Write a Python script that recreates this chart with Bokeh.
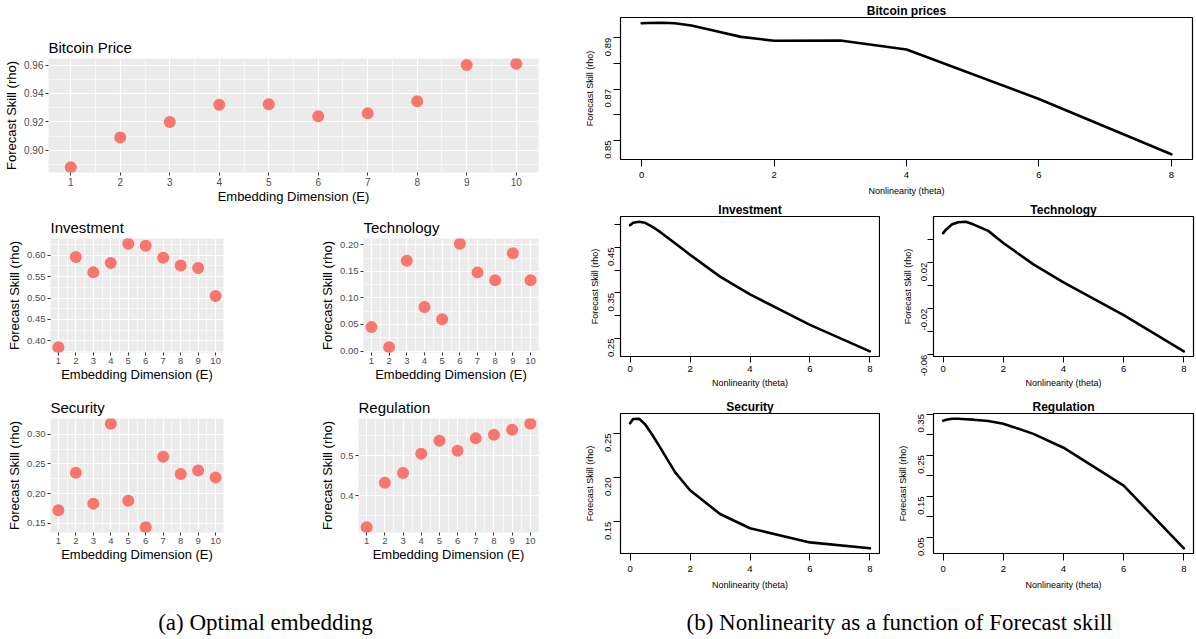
import math
from bokeh.plotting import figure
from bokeh.layouts import column, row
from bokeh.models import Spacer, FixedTicker, PrintfTickFormatter, Range1d, Label
from bokeh.embed import file_html
from bokeh.resources import INLINE

# ---------------- data: (a) optimal embedding ----------------
E = [1, 2, 3, 4, 5, 6, 7, 8, 9, 10]
rho_bitcoin_E = [0.888, 0.909, 0.920, 0.932, 0.9325, 0.924, 0.926, 0.9345, 0.960, 0.961]
rho_invest_E = [0.385, 0.596, 0.560, 0.582, 0.627, 0.622, 0.594, 0.576, 0.570, 0.505]
rho_tech_E = [0.045, 0.007, 0.170, 0.083, 0.060, 0.202, 0.148, 0.133, 0.184, 0.133]
rho_secur_E = [0.172, 0.235, 0.183, 0.318, 0.188, 0.143, 0.262, 0.233, 0.239, 0.227]
rho_regul_E = [0.320, 0.432, 0.457, 0.505, 0.538, 0.513, 0.544, 0.553, 0.566, 0.581]

# ---------------- data: (b) nonlinearity ----------------
theta = [0, 0.1, 0.3, 0.5, 0.75, 1, 1.5, 2, 3, 4, 6, 8]
rho_bitcoin_t = [0.8956, 0.8957, 0.8958, 0.8956, 0.8947, 0.8933, 0.8903, 0.8888, 0.8889, 0.8854, 0.8661, 0.8446]
rho_invest_t = [0.499, 0.504, 0.5065, 0.504, 0.495, 0.484, 0.459, 0.434, 0.386, 0.347, 0.280, 0.222]
rho_tech_t = [0.0457, 0.049, 0.0534, 0.0552, 0.0557, 0.0534, 0.0477, 0.0371, 0.0186, 0.0029, -0.0257, -0.0571]
rho_secur_t = [0.2616, 0.2665, 0.2668, 0.2605, 0.248, 0.2343, 0.2062, 0.1856, 0.1586, 0.1425, 0.1264, 0.1197]
rho_regul_t = [0.334, 0.336, 0.3385, 0.3388, 0.3375, 0.3364, 0.3332, 0.3267, 0.3019, 0.2682, 0.176, 0.0236]

E_minor = [1.5, 2.5, 3.5, 4.5, 5.5, 6.5, 7.5, 8.5, 9.5]
theta_ticks = [0, 2, 4, 6, 8]

SANS = "Liberation Sans"


def gg_panel(title, yvals, yticks, yminor, fmt, w, h, left, right, top, bottom, tick_fs):
    lo, hi = min(yvals), max(yvals)
    pad = 0.05 * (hi - lo)
    xlo, xhi = min(E), max(E)
    xpad = 0.05 * (xhi - xlo)
    p = figure(width=w, height=h, x_range=Range1d(xlo - xpad, xhi + xpad),
               y_range=Range1d(lo - pad, hi + pad),
               min_border_left=left, min_border_right=right,
               min_border_top=top, min_border_bottom=bottom,
               toolbar_location=None, output_backend="svg", title=title)
    p.background_fill_color = "#EBEBEB"
    p.border_fill_color = "white"
    p.outline_line_color = None
    p.title.text_font = SANS
    p.title.text_font_size = "15px"
    p.title.text_font_style = "normal"
    p.title.text_color = "black"
    p.title.align = "left"
    p.title.standoff = 5
    p.xaxis.ticker = FixedTicker(ticks=E, minor_ticks=E_minor)
    p.yaxis.ticker = FixedTicker(ticks=yticks, minor_ticks=yminor)
    p.yaxis.formatter = PrintfTickFormatter(format=fmt)
    for ax in (p.xaxis[0], p.yaxis[0]):
        ax.axis_line_color = None
        ax.major_tick_in = 0
        ax.major_tick_out = 3
        ax.major_tick_line_color = "#333333"
        ax.minor_tick_line_color = None
        ax.major_label_text_color = "#4D4D4D"
        ax.major_label_text_font = SANS
        ax.major_label_text_font_size = tick_fs
        ax.major_label_standoff = 1
        ax.axis_label_text_font = SANS
        ax.axis_label_text_font_size = "13px"
        ax.axis_label_text_font_style = "normal"
        ax.axis_label_text_color = "black"
        ax.axis_label_standoff = 2
    p.xaxis.axis_label = "Embedding Dimension (E)"
    p.yaxis.axis_label = "Forecast Skill (rho)"
    p.xaxis.axis_label_standoff = 0
    for g in (p.xgrid[0], p.ygrid[0]):
        g.grid_line_color = "white"
        g.grid_line_width = 1.2
        g.minor_grid_line_color = "white"
        g.minor_grid_line_width = 0.6
    p.scatter(x=E, y=yvals, size=12, color="#F8766D", line_color=None)
    return p


def r_panel(title, yvals, yticks, ylabeled, w, h, left, right, top, bottom, tick_out, lab_std, ax_std):
    lo, hi = min(yvals), max(yvals)
    pad = 0.04 * (hi - lo)
    xlo, xhi = min(theta), max(theta)
    xpad = 0.04 * (xhi - xlo)
    p = figure(width=w, height=h, x_range=Range1d(xlo - xpad, xhi + xpad),
               y_range=Range1d(lo - pad, hi + pad),
               min_border_left=left, min_border_right=right,
               min_border_top=top, min_border_bottom=bottom,
               toolbar_location=None, output_backend="svg", title=title)
    p.background_fill_color = "white"
    p.border_fill_color = "white"
    p.outline_line_color = "black"
    p.outline_line_width = 1.2
    p.title.text_font = SANS
    p.title.text_font_size = "12px"
    p.title.text_font_style = "bold"
    p.title.text_color = "black"
    p.title.align = "center"
    p.title.standoff = 0
    p.xgrid.grid_line_color = None
    p.ygrid.grid_line_color = None
    p.xaxis.ticker = FixedTicker(ticks=theta_ticks)
    p.yaxis.ticker = FixedTicker(ticks=yticks)
    p.yaxis.formatter = PrintfTickFormatter(format="%.2f")
    p.yaxis.major_label_overrides = {t: "" for t in yticks if t not in ylabeled}
    p.yaxis.major_label_orientation = math.pi / 2
    for ax in (p.xaxis[0], p.yaxis[0]):
        ax.axis_line_color = None
        ax.major_tick_in = 0
        ax.major_tick_out = tick_out
        ax.major_tick_line_color = "black"
        ax.minor_tick_line_color = None
        ax.major_label_text_color = "black"
        ax.major_label_text_font = SANS
        ax.major_label_text_font_size = "9.5px"
        ax.major_label_standoff = lab_std
        ax.axis_label_text_font = SANS
        ax.axis_label_text_font_size = "9px"
        ax.axis_label_text_font_style = "normal"
        ax.axis_label_text_color = "black"
        ax.axis_label_standoff = ax_std
    p.xaxis.axis_label = "Nonlinearity (theta)"
    p.yaxis.axis_label = "Forecast Skill (rho)"
    p.line(x=theta, y=yvals, line_color="black", line_width=2.6, line_join="round", line_cap="round")
    return p


# ---------- left column (a) ----------
a_btc = gg_panel("Bitcoin Price", rho_bitcoin_E, [0.90, 0.92, 0.94, 0.96],
                 [0.89, 0.91, 0.93, 0.95], "%.2f", 560, 180, 48, 22, 28, 38, "10px")
a_inv = gg_panel("Investment", rho_invest_E, [0.40, 0.45, 0.50, 0.55, 0.60],
                 [0.375, 0.425, 0.475, 0.525, 0.575, 0.625], "%.2f", 280, 180, 50, 57, 28, 38, "9.5px")
a_tech = gg_panel("Technology", rho_tech_E, [0.00, 0.05, 0.10, 0.15, 0.20],
                  [0.025, 0.075, 0.125, 0.175], "%.2f", 280, 180, 83, 22, 28, 38, "9.5px")
a_sec = gg_panel("Security", rho_secur_E, [0.15, 0.20, 0.25, 0.30],
                 [0.175, 0.225, 0.275], "%.2f", 280, 180, 50, 57, 28, 38, "9.5px")
a_reg = gg_panel("Regulation", rho_regul_E, [0.4, 0.5],
                 [0.35, 0.45, 0.55], "%.1f", 280, 180, 78, 22, 28, 38, "9.5px")

left_col = column(Spacer(width=560, height=30), a_btc, row(a_inv, a_tech), row(a_sec, a_reg),
                  Spacer(width=560, height=30))

# ---------- right column (b) ----------
b_btc = r_panel("Bitcoin prices", rho_bitcoin_t, [0.85, 0.86, 0.87, 0.88, 0.89], [0.85, 0.87, 0.89],
                636, 200, 60, 4, 17, 41, 7, 5, 5)
b_inv = r_panel("Investment", rho_invest_t, [0.25, 0.30, 0.35, 0.40, 0.45, 0.50], [0.25, 0.35, 0.45],
                320, 192, 60, 1, 15, 36, 6, 3, 3)
b_tech = r_panel("Technology", rho_tech_t, [-0.06, -0.04, -0.02, 0.00, 0.02, 0.04], [-0.06, -0.02, 0.02],
                 316, 192, 53, 3, 15, 36, 6, 3, 3)
b_sec = r_panel("Security", rho_secur_t, [0.15, 0.20, 0.25], [0.15, 0.20, 0.25],
                320, 208, 60, 1, 21, 47, 7, 5, 5)
b_reg = r_panel("Regulation", rho_regul_t, [0.05, 0.10, 0.15, 0.20, 0.25, 0.30, 0.35],
                [0.05, 0.15, 0.25, 0.35], 316, 208, 53, 3, 21, 47, 7, 5, 5)

right_col = column(b_btc, row(b_inv, b_tech), row(b_sec, b_reg))

# ---------- captions ----------
cap = figure(width=1196, height=39, x_range=Range1d(0, 1196), y_range=Range1d(0, 39),
             min_border=0, toolbar_location=None, output_backend="svg",
             x_axis_location=None, y_axis_location=None)
cap.xgrid.grid_line_color = None
cap.ygrid.grid_line_color = None
cap.outline_line_color = None
for txt, xc in (("(a) Optimal embedding", 265), ("(b) Nonlinearity as a function of Forecast skill", 899)):
    cap.add_layout(Label(x=xc, y=17, x_units="screen", y_units="screen", text=txt,
                         text_align="center", text_baseline="middle",
                         text_font="Liberation Serif", text_font_size="23px", text_color="black"))

layout = column(row(left_col, right_col), cap)

open("out.html", "w").write(file_html(layout, INLINE))
